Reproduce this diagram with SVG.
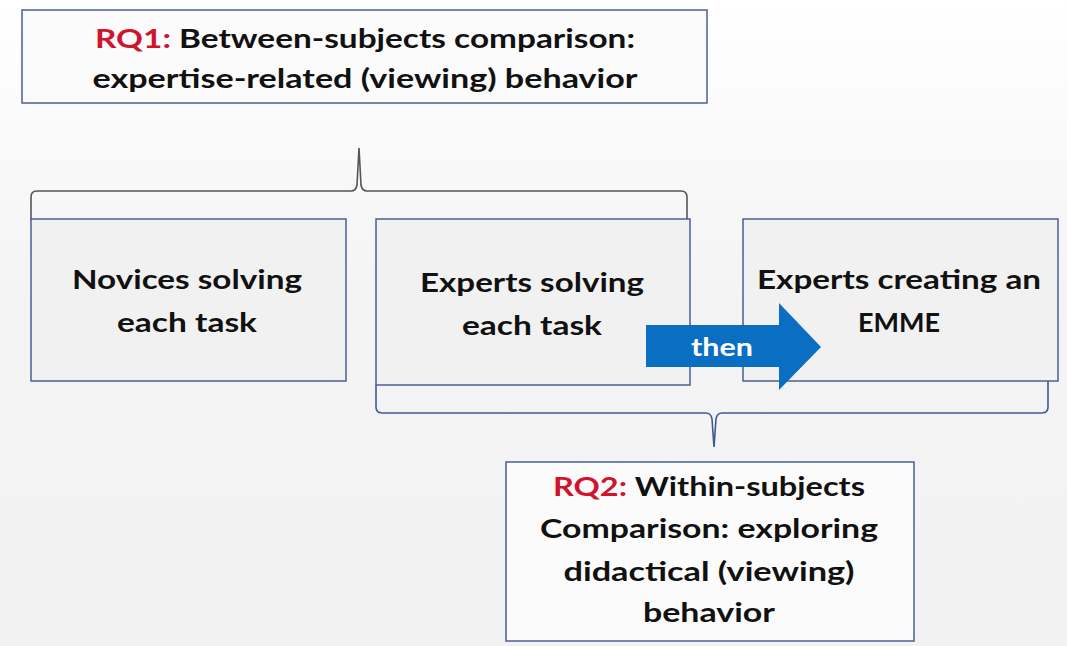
<svg xmlns="http://www.w3.org/2000/svg" width="1067" height="646" viewBox="0 0 1067 646">
<defs>
<linearGradient id="bg" x1="0" y1="0" x2="0" y2="1">
<stop offset="0" stop-color="#ffffff"/>
<stop offset="0.45" stop-color="#f4f4f4"/>
<stop offset="1" stop-color="#f2f2f2"/>
</linearGradient>
<style>
.box{fill:#f1f1f1;stroke:#4e5f91;stroke-width:1.5}
.rq{fill:#fbfbfb;stroke:#4e5f91;stroke-width:1.5}
.t{font-family:Lato,"Open Sans","Liberation Sans",sans-serif;font-weight:bold;font-size:26px;fill:#111;text-anchor:middle}
.red{fill:#d0142e}
.brace{fill:none;stroke-width:1.6}
</style>
</defs>
<rect x="0" y="0" width="1067" height="646" fill="url(#bg)"/>

<g id="rq1">
<rect class="rq" x="22" y="10" width="685" height="93"/>
<text class="t" x="365" y="48" textLength="540" lengthAdjust="spacingAndGlyphs"><tspan class="red">RQ1:</tspan> Between-subjects comparison:</text>
<text class="t" x="365" y="88" textLength="545" lengthAdjust="spacingAndGlyphs">expertise-related (viewing) behavior</text>
</g>

<g id="connectors">
<path class="brace" stroke="#555" d="M31,220 L31,197 Q31,191 37,191 L351,191 Q356,191 357,185 L359,148 L361,185 Q362,191 367,191 L681,191 Q687,191 687,197 L687,220"/>
<path class="brace" stroke="#3f5896" d="M376,385 L376,407 Q376,413 382,413 L706,413 Q711,413 712,419 L714,447 L716,419 Q717,413 722,413 L1042,413 Q1048,413 1048,407 L1048,381"/>
</g>

<g id="novices">
<rect class="box" x="31" y="219" width="315" height="162"/>
<text class="t" x="187" y="289" textLength="230" lengthAdjust="spacingAndGlyphs">Novices solving</text>
<text class="t" x="187" y="332" textLength="140" lengthAdjust="spacingAndGlyphs">each task</text>
</g>

<g id="experts-solving">
<rect class="box" x="376" y="219" width="314" height="166"/>
<text class="t" x="532" y="292" textLength="224" lengthAdjust="spacingAndGlyphs">Experts solving</text>
<text class="t" x="532" y="335" textLength="140" lengthAdjust="spacingAndGlyphs">each task</text>
</g>

<g id="experts-creating">
<rect class="box" x="743" y="219" width="315" height="162"/>
<text class="t" x="899" y="289" textLength="284" lengthAdjust="spacingAndGlyphs">Experts creating an</text>
<text class="t" x="899" y="332" textLength="82" lengthAdjust="spacingAndGlyphs">EMME</text>
</g>

<g id="then-arrow">
<polygon fill="#0a6fc2" points="646,325 779,325 779,303 821,347 779,390 779,367 646,367"/>
<text class="t" x="722" y="356" style="fill:#ffffff;font-size:24px" textLength="62" lengthAdjust="spacingAndGlyphs">then</text>
</g>

<g id="rq2">
<rect class="rq" x="506" y="462" width="408" height="179"/>
<text class="t" x="709" y="496" textLength="312" lengthAdjust="spacingAndGlyphs"><tspan class="red">RQ2:</tspan> Within-subjects</text>
<text class="t" x="709" y="538" textLength="338" lengthAdjust="spacingAndGlyphs">Comparison: exploring</text>
<text class="t" x="709" y="581" textLength="291" lengthAdjust="spacingAndGlyphs">didactical (viewing)</text>
<text class="t" x="709" y="622" textLength="132" lengthAdjust="spacingAndGlyphs">behavior</text>
</g>
</svg>
